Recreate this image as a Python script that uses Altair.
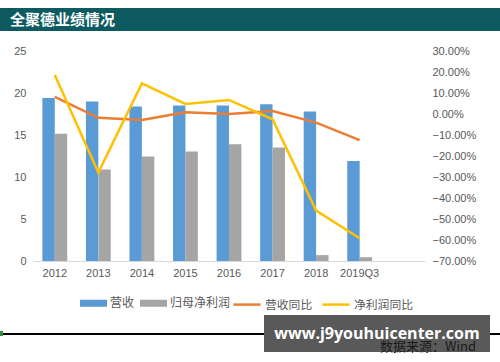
import altair as alt
import pandas as pd

years = ["2012", "2013", "2014", "2015", "2016", "2017", "2018", "2019Q3"]
x_domain = years + [" "]
revenue = [19.4, 19.0, 18.4, 18.5, 18.5, 18.65, 17.8, 11.9]
net_profit = [15.15, 10.9, 12.45, 13.05, 13.9, 13.5, 0.7, 0.45]
rev_yoy = [0.082, -0.018, -0.029, 0.008, 0.0, 0.014, -0.041, -0.124]
np_yoy = [0.186, -0.279, 0.146, 0.048, 0.067, -0.025, -0.46, -0.592]

bar_series = ["营收", "归母净利润"]
line_series = ["营收同比", "净利润同比"]
left_ticks = [0, 5, 10, 15, 20, 25]
right_ticks = [0.3, 0.2, 0.1, 0.0, -0.1, -0.2, -0.3, -0.4, -0.5, -0.6, -0.7]

title_text = "全聚德业绩情况"
source_text = "数据来源：Wind"
watermark_text = "www.j9youhuicenter.com"

df_bars = pd.DataFrame({
    "year": years * 2,
    "series": [bar_series[0]] * len(years) + [bar_series[1]] * len(years),
    "value": revenue + net_profit,
})
df_lines = pd.DataFrame({
    "year": years * 2,
    "series": [line_series[0]] * len(years) + [line_series[1]] * len(years),
    "value": rev_yoy + np_yoy,
})

FONT = "Noto Sans CJK SC"
NUMFONT = "Liberation Sans"
LABEL_COLOR = "#595959"

x_enc = alt.X(
    "year:N",
    sort=x_domain,
    scale=alt.Scale(domain=x_domain, paddingInner=0.43, paddingOuter=0.215),
    axis=alt.Axis(title=None, labelAngle=0, domainColor="#d9d9d9", domainWidth=1,
                  ticks=False, labelPadding=6, labelFont=NUMFONT, labelFontSize=11,
                  labelColor=LABEL_COLOR, grid=False),
)

bars = alt.Chart(df_bars).mark_bar().encode(
    x=x_enc,
    xOffset=alt.XOffset("series:N", scale=alt.Scale(domain=bar_series)),
    y=alt.Y("value:Q", scale=alt.Scale(domain=[0, 25]),
            axis=alt.Axis(title=None, values=left_ticks, domain=False, ticks=False,
                          grid=False, labelPadding=7, labelFont=NUMFONT, labelFontSize=11,
                          labelColor=LABEL_COLOR)),
    color=alt.Color("series:N",
                    scale=alt.Scale(domain=bar_series, range=["#5b9bd5", "#a5a5a5"]),
                    legend=alt.Legend(orient="none", legendX=47, legendY=238.5,
                                      direction="horizontal", title=None,
                                      symbolType="M-1,-0.26L1,-0.26L1,0.26L-1,0.26Z",
                                      symbolSize=729, symbolStrokeWidth=0,
                                      labelFont=FONT, labelFontSize=12,
                                      labelColor=LABEL_COLOR, labelOffset=3,
                                      columnPadding=5, padding=0)),
)

lines = alt.Chart(df_lines).mark_line(strokeWidth=2.5).encode(
    x=x_enc,
    y=alt.Y("value:Q", scale=alt.Scale(domain=[-0.7, 0.3]),
            axis=alt.Axis(title=None, orient="right", values=right_ticks, format=".2%",
                          domain=False, ticks=False, grid=False, labelPadding=7,
                          labelFont=NUMFONT, labelFontSize=11, labelColor=LABEL_COLOR)),
    color=alt.Color("series:N",
                    scale=alt.Scale(domain=line_series, range=["#ed7d31", "#ffc000"]),
                    legend=alt.Legend(orient="none", legendX=199, legendY=238.5,
                                      direction="horizontal", title=None,
                                      symbolType="stroke", symbolSize=729,
                                      symbolStrokeWidth=2.5,
                                      labelFont=FONT, labelFontSize=11.8,
                                      labelColor=LABEL_COLOR, labelOffset=3,
                                      columnPadding=4, padding=0)),
)

one = alt.Data(values=[{"k": 1}])

title_bar = alt.Chart(one).mark_rect(color="#0d5a61").encode(
    x=alt.value(-33), x2=alt.value(467), y=alt.value(-43), y2=alt.value(-20))
title = alt.Chart(one).mark_text(align="left", baseline="middle", color="white",
                                 font=FONT, fontSize=15, fontWeight="bold").encode(
    x=alt.value(-23), y=alt.value(-31.5), text=alt.value(title_text))

bottom_line = alt.Chart(one).mark_rect(color="black").encode(
    x=alt.value(-33), x2=alt.value(467), y=alt.value(282), y2=alt.value(284))
green_mark = alt.Chart(one).mark_rect(color="#3a8a3a").encode(
    x=alt.value(-33), x2=alt.value(-30), y=alt.value(280), y2=alt.value(285))
wm_box = alt.Chart(one).mark_rect(color="#595959").encode(
    x=alt.value(231), x2=alt.value(457), y=alt.value(264), y2=alt.value(301))
source = alt.Chart(one).mark_text(align="right", baseline="middle", color="#1a1a1a",
                                  font=FONT, fontSize=13).encode(
    x=alt.value(443), y=alt.value(296), text=alt.value(source_text))
wm_text = alt.Chart(one).mark_text(align="center", baseline="middle", color="white",
                                   font="Open Sans", fontSize=16, fontWeight="bold").encode(
    x=alt.value(344), y=alt.value(283), text=alt.value(watermark_text))

chart = alt.layer(
    bars, lines, title_bar, title, bottom_line, green_mark, wm_box, source, wm_text
).resolve_scale(
    y="independent", color="independent"
).properties(
    width=392, height=210,
    autosize=alt.AutoSizeParams(type="none"),
    padding={"left": 33, "top": 51, "right": 75, "bottom": 101},
    background="white",
).configure_view(stroke="transparent")

chart.save("out.html", embed_options={"renderer": "svg", "actions": False})
